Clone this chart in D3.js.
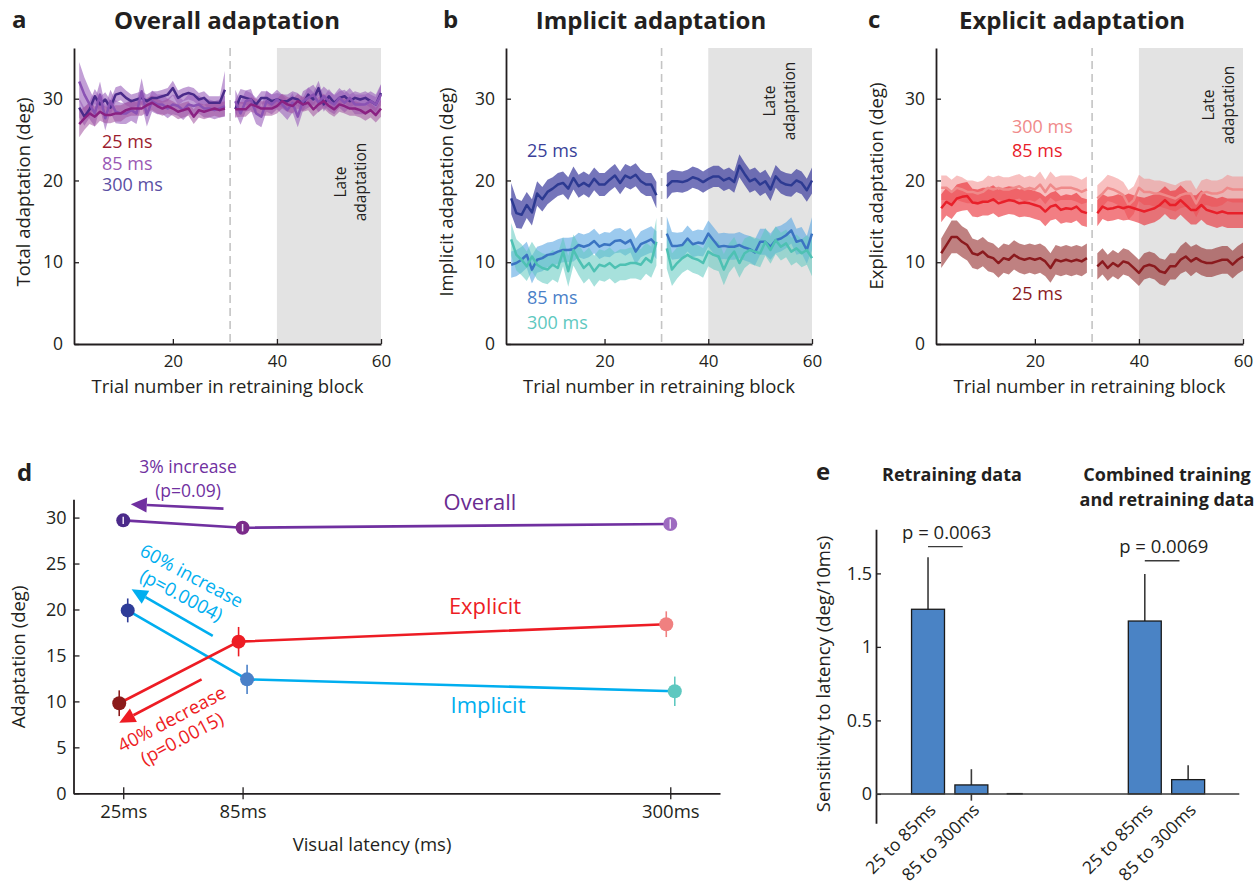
<!DOCTYPE html>
<html><head><meta charset="utf-8">
<script src="https://cdn.jsdelivr.net/npm/d3@7"></script>
<style>
body{margin:0;background:#fff}
svg{display:block}
text{font-family:"Open Sans","Noto Sans",sans-serif;fill:#231f20}
</style>
</head><body>
<svg id="c" width="1260" height="893"></svg>
<script>
// ---------------- DATA ----------------
const trials = [2,3,4,5,6,7,8,9,10,11,12,13,14,15,16,17,18,19,20,21,22,23,24,25,26,27,28,29,30,31,32,33,34,35,36,37,38,39,40,41,42,43,44,45,46,47,48,49,50,51,52,53,54,55,56,57,58,59,60];
const xTicksTop = [20,40,60];
const yTicksTop = [0,10,20,30];
const latencyNames = ['25 ms','85 ms','300 ms'];

// Panel a: overall adaptation (mean, SE)
const ov25 = [26.9,27.6,28.2,27.8,28.4,28.0,28.0,28.2,28.2,28.6,28.8,28.8,28.8,29.2,29.5,29.1,28.8,29.1,28.8,28.4,28.6,28.8,27.8,28.6,28.4,28.6,28.8,28.6,28.8,null,28.7,28.7,28.7,29.3,29.1,28.8,28.8,28.8,29.1,29.7,29.3,29.1,29.7,29.3,29.5,28.7,29.3,29.7,29.1,28.7,29.3,29.1,28.8,28.8,28.6,28.2,28.6,28.0,28.8];
const ov25se = [1.6,1.4,1.3,1.2,1.1,1.0,1.0,1.0,1.0,0.9,0.9,0.9,0.9,0.9,0.9,0.9,0.9,0.9,0.9,0.9,0.9,0.9,0.9,0.9,0.9,0.9,0.9,0.9,0.9,null,1.0,0.9,0.9,0.9,0.9,0.9,0.9,0.9,0.9,0.9,0.9,0.9,0.9,0.9,0.9,0.9,0.9,0.9,0.9,0.9,0.9,0.9,0.9,0.9,0.9,0.9,0.9,0.9,1.0];
const ov85 = [32.1,30.5,29.3,28.2,30.5,27.6,29.7,28.4,28.2,28.2,28.6,28.2,30.9,28.0,29.7,29.3,29.3,28.8,29.3,29.1,28.6,29.3,29.1,29.3,28.8,28.8,28.6,28.8,29.1,null,29.7,28.2,29.7,29.9,28.2,27.8,29.7,29.3,29.9,29.3,28.6,29.5,27.8,29.7,30.1,30.5,29.5,30.3,29.7,29.3,30.1,29.5,30.1,29.3,29.3,29.3,29.7,29.3,30.5];
const ov85se = [2.4,2.1,1.8,1.6,1.6,1.5,1.4,1.4,1.3,1.3,1.3,1.3,1.6,1.4,1.3,1.2,1.2,1.2,1.2,1.2,1.2,1.2,1.2,1.1,1.1,1.1,1.1,1.1,1.3,null,1.4,1.4,1.3,1.3,1.3,1.3,1.3,1.2,1.2,1.2,1.2,1.2,1.3,1.2,1.2,1.2,1.2,1.2,1.2,1.2,1.2,1.2,1.2,1.2,1.2,1.2,1.2,1.2,1.3];
const ov300 = [28.9,27.8,28.7,30.3,29.3,29.9,28.9,30.5,30.7,30.1,29.7,29.9,30.1,29.7,30.1,30.1,30.3,30.5,31.3,30.1,30.5,30.7,30.5,29.9,30.1,29.5,29.5,29.5,31.1,null,28.7,30.3,30.1,29.9,29.3,30.1,30.1,29.7,29.9,29.7,29.7,30.1,29.9,29.3,30.5,29.9,31.3,29.3,30.3,29.5,30.1,30.3,29.7,30.1,29.9,30.1,29.7,29.3,30.7];
const ov300se = [1.2,1.1,1.0,0.9,0.9,0.9,0.9,0.9,0.9,0.9,0.8,0.8,0.8,0.8,0.8,0.8,0.8,0.8,0.9,0.9,0.8,0.8,0.8,0.8,0.8,0.8,0.8,0.8,2.3,null,1.1,0.9,0.9,0.8,0.8,0.8,0.8,0.8,0.8,0.8,0.8,0.8,0.8,0.8,0.9,0.9,0.9,0.9,0.9,0.9,0.8,0.8,0.8,0.8,0.8,0.8,0.8,0.9,1.0];

// Panel b: implicit adaptation
const im25 = [17.8,16.0,15.8,17.0,16.1,18.4,17.7,18.6,19.0,19.5,19.7,19.0,20.3,19.3,19.7,19.3,20.2,19.5,19.5,20.1,20.6,19.7,20.6,20.3,20.7,19.9,19.5,19.5,18.2,null,19.3,19.9,19.9,19.8,20.0,20.4,20.2,19.8,20.2,20.5,20.5,20.0,20.3,19.8,21.8,20.8,19.9,20.2,19.5,19.9,18.9,20.5,19.8,19.5,19.4,20.0,19.7,18.8,20.0];
const im25se = [1.9,1.8,1.7,1.6,1.6,1.5,1.5,1.5,1.4,1.4,1.4,1.4,1.4,1.4,1.4,1.4,1.4,1.4,1.4,1.4,1.4,1.4,1.4,1.4,1.4,1.4,1.4,1.4,1.6,null,1.6,1.4,1.3,1.3,1.3,1.3,1.3,1.3,1.3,1.3,1.3,1.3,1.3,1.3,1.4,1.4,1.4,1.4,1.4,1.4,1.4,1.4,1.4,1.4,1.4,1.4,1.4,1.4,1.6];
const im85 = [9.7,9.9,10.3,10.9,9.1,10.3,10.5,10.9,11.0,11.3,11.5,11.5,11.6,12.1,11.9,12.1,12.6,11.9,12.2,12.1,12.6,12.7,12.3,12.7,11.3,12.2,12.5,12.8,12.1,null,13.5,12.0,12.0,12.1,12.9,12.2,12.4,12.3,13.5,12.7,11.9,12.0,11.9,11.9,12.1,11.8,11.6,11.2,12.5,12.5,11.9,12.7,12.9,13.3,13.9,12.5,12.7,11.5,13.5];
const im85se = [1.6,1.6,1.6,1.6,1.7,1.6,1.6,1.5,1.5,1.5,1.5,1.5,1.5,1.5,1.5,1.5,1.5,1.5,1.5,1.5,1.5,1.5,1.5,1.5,1.6,1.6,1.6,1.6,1.7,null,2.1,1.7,1.6,1.6,1.6,1.6,1.6,1.6,1.6,1.6,1.6,1.6,1.6,1.6,1.6,1.6,1.6,1.6,1.6,1.6,1.6,1.6,1.6,1.6,1.6,1.6,1.6,1.7,2.0];
const im300 = [12.8,10.9,10.3,9.5,10.7,9.7,9.3,9.1,9.7,9.3,11.3,8.9,11.5,10.3,9.3,9.9,8.9,9.7,9.5,9.9,9.3,9.7,9.7,9.9,9.9,9.7,10.5,10.0,12.5,null,11.7,9.1,9.9,10.5,10.9,10.5,10.3,9.9,11.3,10.9,10.7,9.1,10.5,11.3,9.9,11.1,11.5,11.3,11.1,12.5,11.5,12.7,11.9,12.3,11.3,11.7,11.1,11.5,10.5];
const im300se = [2.0,1.9,1.9,1.8,1.8,1.8,1.8,1.8,1.8,1.8,1.8,1.9,1.9,1.9,1.9,1.9,1.9,1.9,1.9,1.9,1.9,1.9,1.9,1.9,1.9,1.9,1.9,1.9,2.9,null,2.5,2.0,1.9,1.8,1.8,1.8,1.8,1.8,1.8,1.8,1.8,1.9,1.8,1.8,1.8,1.8,1.7,1.7,1.7,1.7,1.7,1.7,1.7,1.7,1.7,1.7,1.7,1.8,2.2];

// Panel c: explicit adaptation
const ex25 = [11.1,12.1,13.1,13.1,12.5,12.1,11.1,10.9,11.3,10.7,10.5,9.9,10.5,10.3,10.9,10.5,10.3,10.5,10.3,10.5,10.1,9.3,10.3,10.1,10.3,10.1,10.3,10.1,10.5,null,9.5,10.1,9.3,9.9,9.5,10.1,9.9,9.3,8.7,9.5,9.7,9.5,8.9,8.7,9.5,9.5,10.3,10.7,10.1,10.5,10.1,9.9,9.9,10.1,10.3,10.3,9.7,10.3,10.7];
const ex25se = [1.8,1.9,2.0,2.0,1.9,1.9,1.8,1.8,1.8,1.8,1.8,1.8,1.8,1.8,1.8,1.8,1.8,1.8,1.8,1.8,1.8,1.8,1.8,1.8,1.8,1.8,1.8,1.8,1.8,null,1.6,1.6,1.6,1.6,1.6,1.6,1.6,1.6,1.6,1.6,1.6,1.6,1.6,1.6,1.6,1.6,1.7,1.8,1.8,1.7,1.7,1.7,1.7,1.7,1.7,1.7,1.7,1.7,1.7];
const ex85 = [16.6,17.4,17.0,17.8,18.0,18.1,17.3,17.2,17.4,17.4,17.7,17.2,17.4,17.6,17.5,17.2,17.3,17.2,17.0,16.8,16.2,16.8,17.0,16.4,16.6,16.5,16.8,16.2,16.0,null,16.0,16.8,16.5,16.6,16.8,16.6,16.8,16.6,16.4,16.2,16.4,16.6,17.0,17.6,17.0,17.0,17.6,17.0,16.4,16.4,17.0,16.4,16.2,16.0,16.2,16.0,16.0,16.0,16.0];
const ex85se = [1.7,1.7,1.7,1.7,1.7,1.7,1.7,1.7,1.7,1.7,1.7,1.7,1.7,1.7,1.7,1.7,1.7,1.7,1.7,1.7,1.8,1.7,1.7,1.7,1.7,1.7,1.7,1.7,1.7,null,1.6,1.5,1.5,1.5,1.5,1.5,1.6,1.6,1.6,1.7,1.7,1.7,1.7,1.7,1.7,1.8,1.8,1.8,1.8,1.8,1.8,1.8,1.8,1.8,1.8,1.8,1.8,1.8,1.8];
const ex300 = [19.1,19.1,18.6,19.1,18.9,18.6,18.6,18.4,18.6,19.1,18.9,19.1,18.9,18.9,19.1,19.3,18.9,19.1,18.9,19.5,18.6,19.5,18.9,19.1,19.1,19.1,18.9,18.6,18.9,null,17.8,18.4,19.1,18.9,18.6,18.2,17.0,17.6,19.1,18.6,18.6,18.4,18.4,18.2,18.0,17.8,18.2,18.4,18.4,17.2,18.4,18.6,18.4,18.4,18.6,19.1,18.9,18.9,18.9];
const ex300se = [1.5,1.5,1.5,1.5,1.5,1.4,1.4,1.4,1.4,1.5,1.5,1.5,1.5,1.5,1.5,1.5,1.5,1.5,1.5,1.6,1.5,1.6,1.5,1.5,1.5,1.5,1.5,1.5,1.6,null,1.6,1.6,1.6,1.6,1.6,1.6,1.8,1.7,1.6,1.6,1.6,1.6,1.6,1.6,1.6,1.6,1.6,1.6,1.6,1.7,1.6,1.6,1.6,1.6,1.6,1.6,1.6,1.6,1.6];

// Panel d: late adaptation vs latency
const latencies = [25, 85, 300];
const latencyTickLabels = ['25ms','85ms','300ms'];
const yTicksD = [0,5,10,15,20,25,30];
const overallMean = [29.7, 28.9, 29.3];
const overallErr  = [0.4, 0.4, 0.5];
const implicitMean = [19.9, 12.4, 11.1];
const implicitErr  = [1.3, 1.6, 1.6];
const explicitMean = [9.8, 16.5, 18.4];
const explicitErr  = [1.4, 1.6, 1.4];

// Panel e: sensitivity to latency
const barPositions = [1, 2, 3, 6, 7];
const barLabels = ['25 to 85ms', '85 to 300ms', '', '25 to 85ms', '85 to 300ms'];
const barValues = [1.256, 0.061, 0.002, 1.176, 0.097];
const barErrors = [0.354, 0.107, 0, 0.320, 0.098];
const yTicksE = [0, 0.5, 1, 1.5];
const pValues = ['p = 0.0063', 'p = 0.0069'];

// ---------------- DRAWING ----------------
const svg = d3.select('#c');

function text(g, x, y, s, o = {}) {
  const t = g.append('text').attr('x', x).attr('y', y).text(s)
    .attr('font-size', o.size || 18.5)
    .attr('text-anchor', o.anchor || 'start')
    .attr('font-weight', o.bold ? 700 : 400)
    .style('fill', o.color || '#231f20');
  if (o.rotate !== undefined) t.attr('transform', `rotate(${o.rotate},${x},${y})`);
  if (o.dy) t.attr('dy', o.dy);
  return t;
}

function styleAxis(a, size) {
  a.select('.domain').attr('stroke', '#231f20').attr('stroke-width', 1.8);
  a.selectAll('.tick line').attr('stroke', '#231f20').attr('stroke-width', 1.3);
  a.selectAll('.tick text').attr('font-size', size).style('fill', '#231f20')
    .attr('font-family', '"Open Sans","Noto Sans",sans-serif');
}

const topPanels = [
  { letter: 'a', letterX: 12, title: 'Overall adaptation', titleX: 227, left: 74, right: 381,
    ylabel: 'Total adaptation (deg)', ylabelX: 30, ylabelY: 192,
    series: [
      { mean: ov300, se: ov300se, band: '#9a5fbb', op: 0.6, line: '#4a2a8a' },
      { mean: ov85, se: ov85se, band: '#9a5fbb', op: 0.6, line: '#8a52b4' },
      { mean: ov25, se: ov25se, band: '#a0509f', op: 0.55, line: '#8a2182' }],
    legend: [{ s: latencyNames[0], x: 102, y: 148, c: '#9c1c2e' }, { s: latencyNames[1], x: 102, y: 169.5, c: '#9a58b4' }, { s: latencyNames[2], x: 102, y: 191, c: '#5a4fa3' }],
    late: { x1: 346, x2: 366, y: 182 } },
  { letter: 'b', letterX: 443, title: 'Implicit adaptation', titleX: 651, left: 506, right: 812,
    ylabel: 'Implicit adaptation (deg)', ylabelX: 453, ylabelY: 192,
    series: [
      { mean: im25, se: im25se, band: '#3b3b9c', op: 0.7, line: '#2d3a92' },
      { mean: im85, se: im85se, band: '#5aa6e2', op: 0.6, line: '#3b74c2' },
      { mean: im300, se: im300se, band: '#5ec8c0', op: 0.55, line: '#4ec1b3' }],
    legend: [{ s: latencyNames[0], x: 527, y: 157, c: '#3a3f99' }, { s: latencyNames[1], x: 527, y: 304, c: '#4a80c8' }, { s: latencyNames[2], x: 527, y: 328.5, c: '#5ec8c0' }],
    late: { x1: 775, x2: 795, y: 101 } },
  { letter: 'c', letterX: 868, title: 'Explicit adaptation', titleX: 1072, left: 936, right: 1243,
    ylabel: 'Explicit adaptation (deg)', ylabelX: 883, ylabelY: 186,
    series: [
      { mean: ex300, se: ex300se, band: '#f28c8c', op: 0.55, line: '#ef8a8a' },
      { mean: ex85, se: ex85se, band: '#e8202a', op: 0.58, line: '#e8202a' },
      { mean: ex25, se: ex25se, band: '#8b1a1a', op: 0.55, line: '#8b1a1e' }],
    legend: [{ s: latencyNames[2], x: 1012, y: 133, c: '#f08a8a' }, { s: latencyNames[1], x: 1012, y: 157, c: '#e8202a' }, { s: latencyNames[0], x: 1012, y: 300, c: '#8b1a1e' }],
    late: { x1: 1214, x2: 1234, y: 105 } }
];

topPanels.forEach(cfg => {
  const g = svg.append('g');
  const x = d3.scaleLinear([1, 60], [cfg.left, cfg.right]);
  const y = d3.scaleLinear([0, 36.2], [344, 48]);
  g.append('rect').attr('x', x(40)).attr('y', y(36.2)).attr('width', x(60) - x(40))
    .attr('height', y(0) - y(36.2)).attr('fill', '#e3e3e3');
  g.append('line').attr('x1', x(31)).attr('x2', x(31)).attr('y1', y(36.2)).attr('y2', y(0))
    .attr('stroke', '#c4c4c4').attr('stroke-width', 1.6).attr('stroke-dasharray', '8,5');
  cfg.series.forEach(s => {
    const data = trials.map((t, i) => ({ t, m: s.mean[i], e: s.se[i] }));
    const area = d3.area().defined(d => d.m != null).x(d => x(d.t))
      .y0(d => y(d.m - d.e)).y1(d => y(d.m + d.e));
    g.append('path').attr('d', area(data)).attr('fill', s.band).attr('fill-opacity', s.op);
  });
  cfg.series.forEach(s => {
    const data = trials.map((t, i) => ({ t, m: s.mean[i] }));
    const line = d3.line().defined(d => d.m != null).x(d => x(d.t)).y(d => y(d.m));
    g.append('path').attr('d', line(data)).attr('fill', 'none').attr('stroke', s.line)
      .attr('stroke-width', 2.5).attr('stroke-linejoin', 'round');
  });
  const ay = g.append('g').attr('transform', `translate(${cfg.left},0)`)
    .call(d3.axisLeft(y).tickValues(yTicksTop).tickSize(-5).tickSizeOuter(0).tickPadding(11));
  styleAxis(ay, 17.5);
  const ax = g.append('g').attr('transform', `translate(0,344)`)
    .call(d3.axisBottom(x).tickValues(xTicksTop).tickSize(-5).tickSizeOuter(0).tickPadding(11));
  styleAxis(ax, 17);
  text(g, (cfg.left + cfg.right) / 2, 392.5, 'Trial number in retraining block', { anchor: 'middle' });
  text(g, cfg.ylabelX, cfg.ylabelY, cfg.ylabel, { anchor: 'middle', rotate: -90 });
  text(g, cfg.titleX, 29, cfg.title, { anchor: 'middle', bold: true, size: 24 });
  text(g, cfg.letterX, 28, cfg.letter, { bold: true, size: 24 });
  cfg.legend.forEach(l => text(g, l.x, l.y, l.s, { color: l.c, size: 18 }));
  text(g, cfg.late.x1, cfg.late.y, 'Late', { anchor: 'middle', rotate: -90, size: 15.5 });
  text(g, cfg.late.x2, cfg.late.y, 'adaptation', { anchor: 'middle', rotate: -90, size: 15.5 });
});

// ---------- Panel d ----------
(function () {
  const g = svg.append('g');
  const x = d3.scaleLinear([0, 325], [73.5, 720]);
  const y = d3.scaleLinear([0, 32], [793.3, 499.2]);
  const ay = g.append('g').attr('transform', 'translate(73.5,0)')
    .call(d3.axisLeft(y).tickValues(yTicksD).tickSize(-6).tickSizeOuter(0).tickPadding(7));
  styleAxis(ay, 18);
  const ax = g.append('g').attr('transform', 'translate(0,793.3)')
    .call(d3.axisBottom(x).tickValues(latencies).tickFormat((d, i) => latencyTickLabels[i])
      .tickSize(6).tickSizeOuter(0).tickPadding(6));
  styleAxis(ax, 18.5);
  ax.selectAll('.tick line').attr('y1', -6);
  text(g, 372, 851, 'Visual latency (ms)', { anchor: 'middle' });
  text(g, 25, 657, 'Adaptation (deg)', { anchor: 'middle', rotate: -90 });
  text(g, 17, 481, 'd', { bold: true, size: 24 });

  const groups = [
    { mean: overallMean, err: overallErr, off: 0, line: '#7030a0', pts: ['#4b2a8a', '#7b2a8a', '#9d6bc0'], errTop: true },
    { mean: implicitMean, err: implicitErr, off: 4.5, line: '#00aeef', pts: ['#2e3c98', '#4a80c8', '#5ec8c0'] },
    { mean: explicitMean, err: explicitErr, off: -4, line: '#ed1c24', pts: ['#8b1a1a', '#ed1c24', '#f08080'] }
  ];
  groups.forEach(s => {
    const line = d3.line().x((d, i) => x(latencies[i]) + s.off).y(d => y(d));
    g.append('path').attr('d', line(s.mean)).attr('fill', 'none').attr('stroke', s.line).attr('stroke-width', 2.6);
  });
  groups.forEach(s => {
    s.mean.forEach((m, i) => {
      const cx = x(latencies[i]) + s.off;
      if (!s.errTop) g.append('line').attr('x1', cx).attr('x2', cx).attr('y1', y(m - s.err[i])).attr('y2', y(m + s.err[i]))
        .attr('stroke', s.pts[i]).attr('stroke-width', 1.6);
      g.append('circle').attr('cx', cx).attr('cy', y(m)).attr('r', 7).attr('fill', s.pts[i]);
      if (s.errTop) g.append('line').attr('x1', cx).attr('x2', cx).attr('y1', y(m - s.err[i])).attr('y2', y(m + s.err[i]))
        .attr('stroke', '#efe4f6').attr('stroke-width', 1.5);
    });
  });

  function arrow(x1, y1, x2, y2, color) {
    const px1 = x(x1), py1 = y(y1), px2 = x(x2), py2 = y(y2);
    const ang = Math.atan2(py2 - py1, px2 - px1);
    const L = 16, W = 7.5;
    const bx = px2 - L * Math.cos(ang), by = py2 - L * Math.sin(ang);
    g.append('line').attr('x1', px1).attr('y1', py1).attr('x2', bx).attr('y2', by)
      .attr('stroke', color).attr('stroke-width', 2.6);
    g.append('path').attr('d', `M${px2},${py2}L${bx + W * Math.sin(ang)},${by - W * Math.cos(ang)}L${bx - W * Math.sin(ang)},${by + W * Math.cos(ang)}Z`)
      .attr('fill', color);
  }
  arrow(75.4, 30.97, 28.8, 31.45, '#7030a0');
  arrow(70.0, 17.12, 29.2, 22.2, '#00aeef');
  arrow(64.4, 12.4, 23.0, 7.68, '#ed1c24');

  text(g, 188, 473, '3% increase', { anchor: 'middle', color: '#7030a0', size: 17.5 });
  text(g, 188, 497, '(p=0.09)', { anchor: 'middle', color: '#7030a0', size: 17.5 });
  text(g, 480, 510, 'Overall', { anchor: 'middle', color: '#6a2c91', size: 22 });
  text(g, 485, 614, 'Explicit', { anchor: 'middle', color: '#ed1c24', size: 22 });
  text(g, 488, 712.5, 'Implicit', { anchor: 'middle', color: '#00aeef', size: 22 });
  text(g, 191.7, 575.8, '60% increase', { anchor: 'middle', color: '#00aeef', size: 18.5, rotate: 28, dy: '0.35em' });
  text(g, 181.5, 595.2, '(p=0.0004)', { anchor: 'middle', color: '#00aeef', size: 18.5, rotate: 28, dy: '0.35em' });
  text(g, 171.7, 719, '40% decrease', { anchor: 'middle', color: '#ed1c24', size: 18.5, rotate: -28, dy: '0.35em' });
  text(g, 182, 738.4, '(p=0.0015)', { anchor: 'middle', color: '#ed1c24', size: 18.5, rotate: -28, dy: '0.35em' });
})();

// ---------- Panel e ----------
(function () {
  const g = svg.append('g');
  const x = d3.scaleLinear([-0.2, 8.18], [876, 1239.3]);
  const y = d3.scaleLinear([-0.2, 1.8], [823.3, 529.3]);
  const bw = x(0.76) - x(0);
  barValues.forEach((v, i) => {
    if (!barErrors[i]) return;
    const cx = x(barPositions[i]);
    g.append('line').attr('x1', cx).attr('x2', cx).attr('y1', y(v - barErrors[i])).attr('y2', y(v + barErrors[i]))
      .attr('stroke', '#3a3a3a').attr('stroke-width', 1.6);
  });
  barValues.forEach((v, i) => {
    const cx = x(barPositions[i]);
    const w = barLabels[i] ? bw : bw * 0.45;
    g.append('rect').attr('x', cx - w / 2).attr('width', w)
      .attr('y', y(Math.max(v, 0))).attr('height', Math.max(Math.abs(y(0) - y(v)), 0.1))
      .attr('fill', '#4a83c5').attr('stroke', '#1a1a1a').attr('stroke-width', 1.3);
  });
  const ay = g.append('g').attr('transform', 'translate(876,0)')
    .call(d3.axisLeft(y).tickValues(yTicksE).tickFormat(d3.format('~g')).tickSize(-5).tickSizeOuter(0).tickPadding(4));
  styleAxis(ay, 18);
  g.append('line').attr('x1', 876).attr('x2', 1239.3).attr('y1', y(0)).attr('y2', y(0))
    .attr('stroke', '#3a3a3a').attr('stroke-width', 1.5);
  barLabels.forEach((l, i) => {
    if (!l) return;
    text(g, x(barPositions[i]) + 9, 811, l, { anchor: 'end', rotate: -45, size: 17.5 });
  });
  [[1, 1.682, 946.7, 539, 0], [6, 1.586, 1163.8, 553.3, 1]].forEach(([p, yy, tx, ty, k]) => {
    g.append('line').attr('x1', x(p)).attr('x2', x(p + 0.8)).attr('y1', y(yy)).attr('y2', y(yy))
      .attr('stroke', '#3a3a3a').attr('stroke-width', 1.4);
    text(g, tx, ty, pValues[k], { anchor: 'middle', size: 18.5 });
  });
  text(g, 830, 674, 'Sensitivity to latency (deg/10ms)', { anchor: 'middle', rotate: -90 });
  text(g, 816, 480, 'e', { bold: true, size: 24 });
  text(g, 952, 481, 'Retraining data', { anchor: 'middle', bold: true, size: 18 });
  text(g, 1167, 481, 'Combined training', { anchor: 'middle', bold: true, size: 18 });
  text(g, 1167, 506, 'and retraining data', { anchor: 'middle', bold: true, size: 18 });
})();
</script>
</body></html>
